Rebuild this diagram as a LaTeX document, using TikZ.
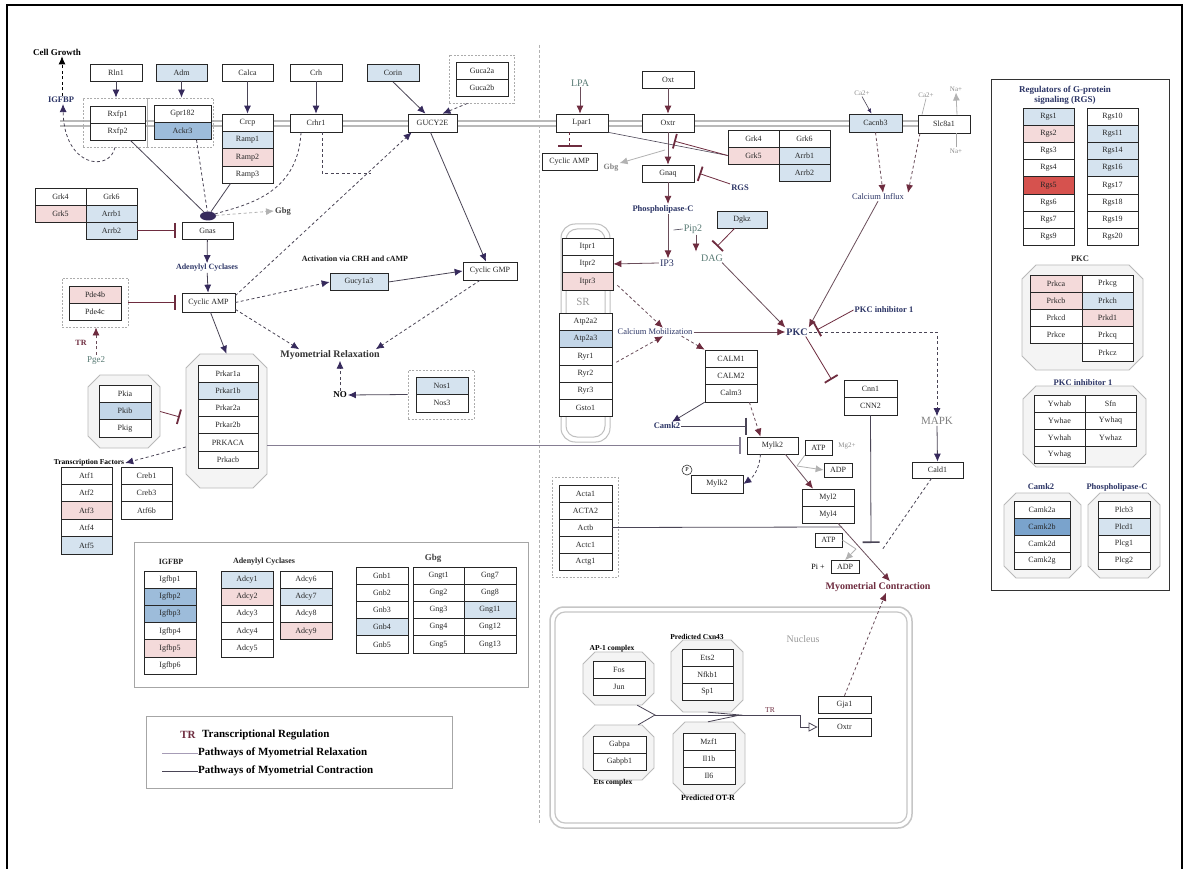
\documentclass[tikz,border=0pt]{standalone}
\usepackage{fontspec}
\setmainfont{Liberation Serif}
\usetikzlibrary{arrows.meta,calc,shapes.geometric}
\definecolor{lb}{HTML}{D5E3EF}
\definecolor{lbm}{HTML}{C3D6E8}
\definecolor{mb}{HTML}{9DBCDA}
\definecolor{mbb}{HTML}{7AA3CC}
\definecolor{pk}{HTML}{F4DADA}
\definecolor{rd}{HTML}{D6524E}
\definecolor{mr}{HTML}{6E2C3F}
\definecolor{pu}{HTML}{362A5C}
\definecolor{ln}{HTML}{4A4556}
\definecolor{lnm}{HTML}{6A4D5A}
\definecolor{nv}{HTML}{2C3566}
\definecolor{gg}{HTML}{587A74}
\definecolor{rlx}{HTML}{A69CB6}
\newcommand\bxf{\fontsize{8}{9}\selectfont}
\tikzset{
 gb/.style={draw=black!85,line width=0.7pt,inner sep=0pt,font=\bxf,text=black!85},
 dgrp/.style={draw=gray!65,dash pattern=on 2pt off 1.5pt,line width=0.8pt,inner sep=0pt},
 tbo/.style={inner sep=1pt,font=\fontsize{#1}{#1}\selectfont\bfseries},
 tre/.style={inner sep=1pt,font=\fontsize{#1}{#1}\selectfont},
 cl/.style={draw=ln,line width=0.8pt},
 ar/.style={draw=ln,line width=0.8pt,-{Latex[length=8pt,width=7pt,color=pu]}},
 arm/.style={draw=lnm,line width=0.8pt,-{Latex[length=8pt,width=7pt,color=mr]}},
 dsh/.style={dash pattern=on 3pt off 2.5pt},
 inh/.style={draw=mr,line width=0.8pt,-{Bar[width=15pt,line width=1.8pt]}},
 gar/.style={draw=gray!60,line width=0.8pt,-{Latex[length=8pt,width=7pt]}},
 barl/.style={draw=ln,line width=0.8pt,-{Bar[width=17pt,line width=1.6pt]}}
}
\newcommand\bxn[7]{\node[gb,fill=#6,minimum width=#4pt,minimum height=#5pt] (#1) at (#2,#3) {#7};}
\newcommand\gcol[6]{%
 \foreach \lab/\cc [count=\i] in {#6} {
  \node[gb,fill=\cc,minimum width=#4pt,minimum height=#5pt] (#1\i) at ({#2+#4/2},{#3+(\i-0.5)*#5}) {\lab};
 }}
\newcommand\octo[6]{%
 \draw[gray!55,line width=0.8pt,fill=gray!9] ({#2+#6},#3) -- ({#4-#6},#3) -- (#4,{#3+#6}) -- (#4,{#5-#6}) -- ({#4-#6},#5) -- ({#2+#6},#5) -- (#2,{#5-#6}) -- (#2,{#3+#6}) -- cycle;
 \node[inner sep=0pt,minimum width={(#4-#2)*1pt},minimum height={(#5-#3)*1pt}] (#1) at ({(#2+#4)/2},{(#3+#5)/2}) {};}
\begin{document}
\begin{tikzpicture}[x=1pt,y=-1pt]
\useasboundingbox (0,0) rectangle (1187,869);
\fill[white] (0,0) rectangle (1187,869);
\draw[black,line width=2pt] (7,875) -- (7,5) -- (1182,5) -- (1182,875);
% divider
\draw[gray!60,dash pattern=on 3pt off 2pt,line width=0.8pt] (539,45) -- (539,823);
% membrane
\draw[gray!55,line width=7pt] (60,124) -- (918,124);
\draw[white,line width=3pt] (60,124) -- (918,124);
% panels
\draw[black!80,line width=0.9pt] (991,79) rectangle (1169,590);
\draw[gray!70,line width=0.9pt] (134,542) rectangle (528,687);
\draw[gray!70,line width=0.9pt] (146,716) rectangle (452,788);
% nucleus
\draw[gray!45,line width=1.5pt,rounded corners=14pt] (550,607) rectangle (912,828);
\draw[gray!45,line width=1.2pt,rounded corners=10pt] (555,612) rectangle (907,823);
% SR
\draw[gray!50,line width=1pt,rounded corners=14pt] (561,224) rectangle (610,442);
\draw[gray!50,line width=1pt,rounded corners=11pt] (566,229) rectangle (605,437);
\node[tre=11,text=gray!80] (srl) at (583,302) {SR};

% ---------- top row ----------
\bxn{rln1}{116}{72.5}{52}{17}{white}{Rln1}
\bxn{adm}{181.5}{72.5}{51}{17}{lb}{Adm}
\bxn{calca}{247.5}{72.5}{51}{17}{white}{Calca}
\bxn{crh}{316}{72.5}{52}{17}{white}{Crh}
\bxn{corin}{393}{73}{52}{17}{lb}{Corin}
\node[dgrp,minimum width=65pt,minimum height=48pt] (gucag) at (481.5,79) {};
\gcol{guca}{456}{62}{52}{17}{Guca2a/white,Guca2b/white}
\bxn{oxt}{668}{79.5}{52}{17}{white}{Oxt}
% ---------- membrane ----------
\node[dgrp,minimum width=64pt,minimum height=49pt] (rxfpg) at (115,122.5) {};
\node[dgrp,minimum width=66pt,minimum height=49pt] (gprg) at (180,122.5) {};
\gcol{rxfp}{90}{106}{55}{17}{Rxfp1/white,Rxfp2/white}
\gcol{gpr}{154}{105.5}{57}{17}{Gpr182/white,Ackr3/mb}
\gcol{crcp}{222}{114}{51}{17.3}{Crcp/white,Ramp1/lb,Ramp2/pk,Ramp3/white}
\bxn{crhr1}{316}{123}{52}{18}{white}{Crhr1}
\bxn{gucy2}{432.5}{123}{49}{18}{white}{GUCY2E}
\bxn{lpar1}{582}{123}{52}{18}{white}{Lpar1}
\bxn{oxtr}{668}{123}{52}{18}{white}{Oxtr}
\bxn{cacnb3}{875.5}{123}{53}{18}{lb}{Cacnb3}
\bxn{slc8a1}{944}{124}{52}{18}{white}{Slc8a1}

% ---------- left ----------
\gcol{grka}{35}{188}{51}{17}{Grk4/white,Grk5/pk}
\gcol{grkb}{86}{188}{51}{17}{Grk6/white,Arrb1/lb,Arrb2/lb}
\bxn{gnas}{207.5}{230.5}{51}{17}{white}{Gnas}
\node[ellipse,fill=pu,minimum width=16pt,minimum height=9pt,inner sep=0pt] (blob) at (208,216) {};
\bxn{camp}{208.5}{302.5}{53}{19}{white}{Cyclic AMP}
\node[dgrp,minimum width=66pt,minimum height=49pt] (pdeg) at (95,302.5) {};
\gcol{pde}{69}{286}{52}{17}{Pde4b/pk,Pde4c/white}
\bxn{gucy1a3}{359}{282}{58}{17}{lb}{Gucy1a3}
\bxn{cgmp}{490}{271}{54}{18}{white}{Cyclic GMP}
\node[dgrp,minimum width=66pt,minimum height=49pt] (nosg) at (441,394.5) {};
\gcol{nos}{416}{377}{52}{17.5}{Nos1/lb,Nos3/white}
\octo{pkaoct}{186}{354}{267}{488}{14}
\gcol{pka}{198}{365}{60}{17.2}{Prkar1a/white,Prkar1b/lb,Prkar2a/white,Prkar2b/white,PRKACA/white,Prkacb/white}
\octo{pkioct}{88}{375}{160}{448}{12}
\gcol{pki}{99}{385}{52}{17.3}{Pkia/white,Pkib/lbm,Pkig/white}
\gcol{tfa}{61}{467}{51}{17.4}{Atf1/white,Atf2/white,Atf3/pk,Atf4/white,Atf5/lb}
\gcol{tfb}{121}{467}{51}{17.4}{Creb1/white,Creb3/white,Atf6b/white}

% ---------- legend box 1 ----------
\node[tbo=8,text=black!85] (igft) at (171,562) {IGFBP};
\node[tbo=8,text=black!85] (adct) at (264,562) {Adenylyl Cyclases};
\node[tbo=9,text=black!75] (gbgt) at (433,558) {Gbg};
\gcol{igf}{144}{571}{52}{17.2}{Igfbp1/white,Igfbp2/mb,Igfbp3/mb,Igfbp4/white,Igfbp5/pk,Igfbp6/white}
\gcol{adca}{221}{571}{52}{17.2}{Adcy1/lb,Adcy2/pk,Adcy3/white,Adcy4/white,Adcy5/white}
\gcol{adcb}{280}{571}{52}{17.2}{Adcy6/white,Adcy7/lb,Adcy8/white,Adcy9/pk}
\gcol{gnb}{356}{567}{52}{17.2}{Gnb1/white,Gnb2/white,Gnb3/white,Gnb4/lb,Gnb5/white}
\gcol{gnga}{413}{567}{51}{17.2}{Gngt1/white,Gng2/white,Gng3/white,Gng4/white,Gng5/white}
\gcol{gngb}{464}{567}{52}{17.2}{Gng7/white,Gng8/white,Gng11/lb,Gng12/white,Gng13/white}
% ---------- legend box 2 ----------
\node[tbo=11,text=mr] (ltr) at (188,735) {TR};
\node[tbo=11,anchor=west] (ltrt) at (201,735) {Transcriptional Regulation};
\node[tbo=11,anchor=west,inner sep=0pt] (lrel) at (198,753) {Pathways of Myometrial Relaxation};
\node[tbo=11,anchor=west,inner sep=0pt] (lcon) at (198,771) {Pathways of Myometrial Contraction};
\draw[rlx,line width=1pt] (162,753) -- (lrel.west);
\draw[ln,line width=1pt] (162,771) -- (lcon.west);

% ---------- right centre ----------
\bxn{camp2}{569.5}{161.5}{55}{17}{white}{Cyclic AMP}
\bxn{gnaq}{668}{173.5}{52}{17}{white}{Gnaq}
\gcol{grkc}{728}{130}{51}{17}{Grk4/white,Grk5/pk}
\gcol{grkd}{779}{130}{51}{17}{Grk6/white,Arrb1/lb,Arrb2/lb}
\bxn{dgkz}{742}{219.5}{50}{17}{lb}{Dgkz}
\gcol{itpr}{562}{238}{51}{17.3}{Itpr1/white,Itpr2/white,Itpr3/pk}
\gcol{atp}{559}{313}{53}{17.3}{Atp2a2/white,Atp2a3/lbm,Ryr1/white,Ryr2/white,Ryr3/white,Gsto1/white}
\gcol{calm}{705}{350}{52}{17.3}{CALM1/white,CALM2/white,Calm3/white}
\bxn{mylk2}{772.5}{445.5}{51}{17}{white}{Mylk2}
\bxn{pmylk}{717}{484}{52}{18}{white}{Mylk2}
\node[circle,draw=black!80,line width=0.6pt,inner sep=0.5pt,minimum size=10pt,font=\fontsize{6}{6}\selectfont] (pc) at (687,470) {P};
\bxn{atpa}{818.5}{447.5}{27}{15}{white}{ATP}
\bxn{adpa}{838}{470}{28}{14}{white}{ADP}
\gcol{myl}{802}{489}{52}{17}{Myl2/white,Myl4/white}
\gcol{cnn}{844}{380}{53}{17.5}{Cnn1/white,CNN2/white}
\bxn{cald1}{937.5}{470}{51}{16}{white}{Cald1}
\node[dgrp,minimum width=66pt,minimum height=100pt] (actg) at (585,527) {};
\gcol{act}{559}{485}{53}{17}{Acta1/white,ACTA2/white,Actb/white,Actc1/white,Actg1/white}
\bxn{atpb}{828.5}{540}{27}{14}{white}{ATP}
\bxn{adpb}{845}{567}{28}{13}{white}{ADP}
\node[tre=8] (pilab) at (818,567) {Pi +};
\node[tre=7,text=gray!90] (mg) at (847,446) {Mg2+};

% ---------- nucleus ----------
\node[tre=10,text=gray!80] (nucl) at (803,639) {Nucleus};
\octo{ap1oct}{583}{652}{654}{705}{12}
\gcol{ap}{593}{661}{52}{17}{Fos/white,Jun/white}
\octo{cxnoct}{671}{640}{743}{712}{12}
\gcol{cxn}{682}{649}{51}{17}{Ets2/white,Nfkb1/white,Sp1/white}
\octo{etsoct}{583}{725}{654}{780}{12}
\gcol{ets}{593}{736}{53}{17}{Gabpa/white,Gabpb1/white}
\octo{otroct}{673}{722}{745}{795}{12}
\gcol{otr}{683}{733}{52}{17}{Mzf1/white,Il1b/white,Il6/white}
\node[tbo=7.5] (ap1t) at (612,649) {AP-1 complex};
\node[tbo=7.5] (cxnt) at (697,637) {Predicted Cxn43};
\node[tbo=7.5] (etst) at (613,783) {Ets complex};
\node[tbo=8] (otrt) at (708,798) {Predicted OT-R};
\bxn{gja1}{844.5}{704.5}{53}{17}{white}{Gja1}
\bxn{oxtrn}{844.5}{727}{53}{18}{white}{Oxtr}
\node[tre=7.5,text=mr] (ntr) at (770,710) {TR};

% ---------- right panel ----------
\node[tbo=9,text=nv] (rgst1) at (1065,90) {Regulators of G-protein};
\node[tbo=9,text=nv] (rgst2) at (1065,100) {signaling (RGS)};
\gcol{rgsa}{1023}{108}{51}{17.2}{Rgs1/lb,Rgs2/pk,Rgs3/white,Rgs4/white,Rgs5/rd,Rgs6/white,Rgs7/white,Rgs9/white}
\gcol{rgsb}{1087}{108}{51}{17.2}{Rgs10/white,Rgs11/lb,Rgs14/lb,Rgs16/lb,Rgs17/white,Rgs18/white,Rgs19/white,Rgs20/white}
\node[tbo=8.5,text=black!80] (pkct) at (1080,259) {PKC};
\octo{pkcoct}{1022}{265}{1143}{370}{14}
\gcol{pkca}{1030}{275}{52}{17.2}{Prkca/pk,Prkcb/pk,Prkcd/white,Prkce/white}
\gcol{pkcb}{1082}{275}{51}{17.2}{Prkcg/white,Prkch/lb,Prkd1/pk,Prkcq/white,Prkcz/white}
\node[tbo=8.5,text=nv] (pkcit) at (1083,383) {PKC inhibitor 1};
\octo{ywoct}{1023}{386}{1146}{467}{13}
\gcol{ywa}{1034}{395}{51}{17}{Ywhab/white,Ywhae/white,Ywhah/white,Ywhag/white}
\gcol{ywb}{1085}{395}{51}{17}{Sfn/white,Ywhaq/white,Ywhaz/white}
\node[tbo=8.5,text=nv] (camkt) at (1041,487) {Camk2};
\node[tbo=8.5,text=nv] (plct) at (1117,487) {Phospholipase-C};
\octo{camkoct}{1004}{493}{1081}{578}{12}
\gcol{camk}{1014}{501}{56}{17}{Camk2a/white,Camk2b/mbb,Camk2d/white,Camk2g/white}
\octo{plcoct}{1088}{493}{1160}{578}{12}
\gcol{plc}{1098}{501}{52}{17}{Plcb3/white,Plcd1/lb,Plcg1/white,Plcg2/white}

% ---------- labels (pathway) ----------
\node[tbo=9] (cg) at (57,52) {Cell Growth};
\node[tbo=8.5,text=nv] (igl) at (61,100) {IGFBP};
\node[tbo=8.5,text=black!75] (gbg1) at (283,211) {Gbg};
\node[tbo=8,text=nv] (adcl) at (207,268) {Adenylyl Cyclases};
\node[tbo=8,text=black!90] (actl) at (355,259) {Activation via CRH and cAMP};
\node[tbo=8,text=mr] (trl) at (81,343) {TR};
\node[tre=9,text=gg] (pge2) at (96,360) {Pge2};
\node[tbo=10,text=black!80] (mrel) at (330,355) {Myometrial Relaxation};
\node[tbo=9] (nol) at (340,395) {NO};
\node[tbo=7.5] (tfl) at (89,463) {Transcription Factors};
\node[tre=10,text=gg] (lpa) at (580,83) {LPA};
\node[tbo=8,text=gray] (gbg2) at (611,168) {Gbg};
\node[tbo=8.5,text=nv] (rgs) at (740,188) {RGS};
\node[tbo=8.5,text=nv] (plc) at (663,209) {Phospholipase-C};
\node[tre=10,text=gg] (pip2) at (693,229) {Pip2};
\node[tre=10,text=gg] (dag) at (712,258) {DAG};
\node[tre=10,text=nv] (ip3) at (667,263) {IP3};
\node[tre=8.5,text=nv] (calmob) at (655,332) {Calcium Mobilization};
\node[tbo=10,text=nv] (pkc) at (797,332) {PKC};
\node[tbo=8.5,text=nv] (pkci) at (884,310) {PKC inhibitor 1};
\node[tbo=8.5,text=nv] (camk2l) at (667,426) {Camk2};
\node[tre=11,text=gray] (mapk) at (937,421) {MAPK};
\node[tre=8.5,text=nv] (cainf) at (878,197) {Calcium Influx};
\node[tbo=10,text=mr] (mcon) at (878,587) {Myometrial Contraction};
\node[tre=7,text=gray!90] (ca1) at (862,93) {Ca2+};
\node[tre=7,text=gray!90] (ca2) at (926,95) {Ca2+};
\node[tre=7,text=gray!90] (na1) at (956,89) {Na+};
\node[tre=7,text=gray!90] (na2) at (956,151) {Na+};

% ---------- connectors: left ----------
\draw[ar] (rln1.south) -- (rln1.south |- rxfpg.north);
\draw[ar] (adm.south) -- (adm.south |- gprg.north);
\draw[ar] (calca) -- (crcp1);
\draw[ar] (crh) -- (crhr1);
\draw[ar] (corin.south) -- ($(gucy2.north)+(-7,0)$);
\draw[ar,dsh] ($(gucag.south)+(-14,0)$) -- ($(gucy2.north)+(10,0)$);
\draw[black,line width=0.8pt,dsh,-{Latex[length=8pt,width=7pt]}] ($(igl.north)+(1,0)$) -- ($(cg.south)+(5,0)$);
\draw[ar,dsh] (rxfpg.south) .. controls (110,172) and (64,168) .. ($(igl.south)+(2,0)$);
\draw[cl] ($(rxfp2.south east)+(-15,0)$) -- (blob);
\draw[cl,dsh] ($(gpr2.south)+(14,0)$) -- (blob);
\draw[cl] ($(crcp4.south)+(-17,0)$) -- (blob);
\draw[cl,dsh] ($(crhr1.south)+(-15,0)$) .. controls (298,195) and (245,205) .. (blob);
\draw[gar,dsh] (blob) -- (gbg1.west);
\draw[inh] (grkb3.east) -- ($(gnas.west)+(-6,0)$);
\draw[ar] (gnas) -- (adcl);
\draw[ar] (adcl) -- (camp);
\draw[inh] (pdeg.east) -- ($(camp.west)+(-6,0)$);
\draw[arm,dsh] (pge2.north) -- (pge2.north |- pdeg.south);
\draw[ar,dsh] ($(camp.north east)+(0,3)$) -- ($(gucy2.south west)+(4,0)$);
\coordinate (j1) at (371,173);
\draw[cl,dsh] ($(crhr1.south)+(6,0)$) |- (j1);
\draw[ar,dsh] (camp.east) -- (gucy1a3.west);
\draw[ar,dsh] ($(camp.south east)+(0,-3)$) -- ($(mrel.north west)+(20,0)$);
\draw[ar] ($(camp.south)+(2,0)$) -- (pkaoct.north);
\draw[ar] ($(gucy2.south)+(-2,0)$) -- ($(cgmp.north)+(-4,0)$);
\draw[ar] (gucy1a3.east) -- (cgmp.west);
\draw[ar,dsh] ($(cgmp.south)+(-10,0)$) -- ($(mrel.north east)+(-5,0)$);
\draw[ar,dsh] (nol.north) -- (nol.north |- mrel.south);
\draw[ar] (nosg.west) -- (nol.east);
\draw[inh] (pkioct.east) -- ($(pkaoct.west)+(-6,-4)$);
\draw[ar,dsh] ($(pkaoct.west)+(0,26)$) -- (tfl.east);
\draw[draw=rlx!80!black,line width=0.9pt,-{Bar[width=17pt,line width=1.6pt]}] (pkaoct.east |- mylk2.west) -- ($(mylk2.west)+(-6,0)$);

% ---------- connectors: right ----------
\draw[arm] (lpa.south) -- (lpa.south |- lpar1.north);
\draw[arm] (oxt) -- (oxtr);
\draw[draw=ln,line width=0.6pt,-{Latex[length=5pt,width=4pt,color=pu]}] (ca1.south) -- ($(cacnb3.north)+(-4,0)$);
\draw[gray!70,line width=0.6pt] (ca2.south) -- ($(slc8a1.north)+(-22,0)$);
\draw[gar] ($(slc8a1.north)+(13,0)$) -- (na1.south);
\draw[gray!70,line width=0.6pt] (na2.north) -- ($(slc8a1.south)+(12,0)$);
\draw[inh,dsh,-{Bar[width=24pt,line width=1.8pt]}] (lpar1.south -| camp2.north) -- ($(camp2.north)+(0,-6)$);
\draw[cl,line width=0.6pt] (grkc2.west) -- (lpar1.south east);
\draw[arm] (oxtr) -- (gnaq);
\coordinate (obar) at (674,141);
\draw[inh] (grkc2.west) -- (obar);
\coordinate (gs) at (665,150);
\draw[gar] (gs) -- (gbg2.north east);
\draw[inh] (rgs.north west) -- ($(gnaq.east)+(5,0)$);
\draw[arm] (gnaq.south) -- (gnaq.south |- plc.north);
\draw[arm] (plc.south -| gnaq.south) -- (ip3.north -| gnaq.south);
\draw[cl,line width=0.6pt] (pip2.west) -- ++(-9,1);
\draw[arm] ($(pip2.south)+(3,0)$) -- ++(0,17);
\draw[inh] ($(dgkz.south west)+(18,0)$) -- ($(dag.north)+(5,-7)$);
\draw[arm] (ip3.west) -- (itpr2.east);
\draw[arm,dsh] ($(itpr3.east)+(4,4)$) -- ($(calmob.north)+(8,0)$);
\draw[arm,dsh] ($(atp3.east)+(4,6)$) -- ($(calmob.south)+(8,0)$);
\draw[arm] (calmob.east) -- (pkc.west);
\draw[arm,dsh] ($(calmob.south east)+(-12,0)$) -- (calm1.north west);
\draw[arm] ($(dag.south east)+(-2,0)$) -- (pkc.north west);
\draw[arm] (cainf.south) -- (pkc.north east);
\draw[arm,dsh] (cacnb3.south) -- ($(cainf.north)+(5,0)$);
\draw[arm,dsh] ($(slc8a1.south)+(-24,0)$) -- ($(cainf.north)+(30,0)$);
\draw[inh] (pkci.west) -- ($(pkc.east)+(8,-2)$);
\draw[ar,dsh] (pkc.east) -| (mapk.north);
\draw[ar] (mapk.south) -- (cald1.north);
\draw[inh] ($(pkc.south east)+(-3,0)$) -- ($(cnn1.north west)+(-12,0)$);
\draw[ar] (calm3.south west) -- ($(camk2l.north)+(5,0)$);
\draw[barl] (camk2l.east) -- (camk2l.east -| mylk2.north west);
\draw[arm,dsh] ($(calm3.south east)+(-8,0)$) -- ($(mylk2.north)+(-12,0)$);
\draw[ar,dsh] ($(mylk2.south)+(-12,0)$) to[bend left=25] (pmylk.east);
\coordinate (aj) at (797,466);
\draw[gray!60,line width=0.8pt] (atpa.south west) -- (aj);
\draw[gar] (aj) -- (adpa.west);
\draw[arm] ($(mylk2.south east)+(-13,0)$) -- ($(myl1.north)+(-15,0)$);
\coordinate (cnnend) at (871,543);
\draw[barl] (cnn2.south) -- (cnnend);
\coordinate (mj) at (842,527);
\draw[cl] (act3.east) -- (mj);
\draw[arm] ($(myl2.south)+(10,0)$) -- ($(mcon.north)+(12,0)$);
\coordinate (aj2) at (856,549);
\draw[gray!60,line width=0.8pt] (atpb.east) -- (aj2);
\draw[gar] (aj2) -- (adpb.north);
\coordinate (cdend) at (882,550);
\draw[cl,dsh] ($(cald1.south)+(-6,0)$) -- (cdend);
\draw[arm,dsh] (gja1.north) -- ($(mcon.south)+(8,0)$);
% nucleus TR
\coordinate (tj1) at (655,715);
\coordinate (tj2) at (740,715);
\coordinate (tj3) at (800,715);
\draw[cl] ($(ap1oct.south east)+(-17,0)$) -- (tj1) -- ($(etsoct.north east)+(-16,0)$);
\draw[cl] ($(cxnoct.south)+(1,0)$) -- (tj2) -- ($(otroct.north)+(-1,0)$);
\draw[cl,-{Triangle[open,length=9pt,width=9pt]}] (tj1) -- (tj3) |- (oxtrn.west);
\end{tikzpicture}
\end{document}
